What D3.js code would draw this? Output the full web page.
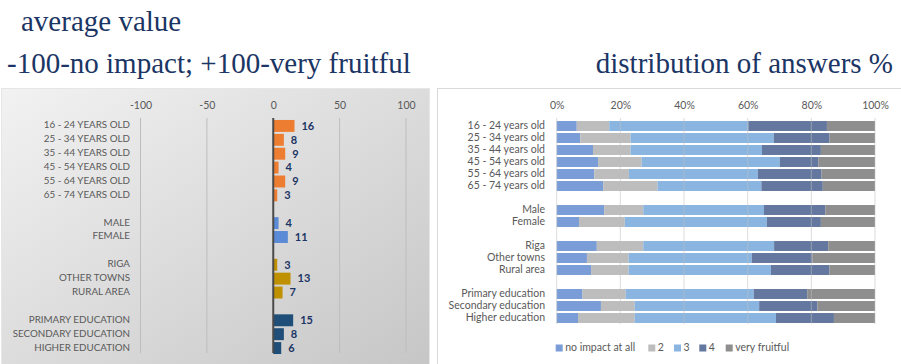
<!DOCTYPE html>
<html><head><meta charset="utf-8">
<script src="https://cdn.jsdelivr.net/npm/d3@7"></script>
<style>body{margin:0;background:#fff;}svg{display:block;}</style>
</head><body>
<svg id="c" width="901" height="364"></svg>
<script>
const leftCategories = ["16 - 24 YEARS OLD","25 - 34 YEARS OLD","35 - 44 YEARS OLD","45 - 54 YEARS OLD","55 - 64 YEARS OLD","65 - 74 YEARS OLD","",
  "MALE","FEMALE"," ","RIGA","OTHER TOWNS","RURAL AREA","  ","PRIMARY EDUCATION","SECONDARY EDUCATION","HIGHER EDUCATION"];
const averageValues = [16,8,9,4,9,3,null,4,11,null,3,13,7,null,15,8,6];
const groupOf = ["age","age","age","age","age","age",null,"gender","gender",null,"place","place","place",null,"edu","edu","edu"];
const leftTicks = [-100,-50,0,50,100];

const rightCategories = ["16 - 24 years old","25 - 34 years old","35 - 44 years old","45 - 54 years old","55 - 64 years old","65 - 74 years old","",
  "Male","Female"," ","Riga","Other towns","Rural area","  ","Primary education","Secondary education","Higher education"];
const answerKeys = ["no impact at all","2","3","4","very fruitful"];
const noImpact   = [6.3,7.4,11.4,13.0,11.8,14.6,null,14.9,7.0,null,12.6,9.5,10.8,null,8.1,13.9,6.7];
const ans2       = [10.2,15.8,11.8,13.7,10.9,17.1,null,12.3,14.4,null,14.6,13.1,11.8,null,13.6,10.6,17.8];
const ans3       = [43.7,45.0,41.3,43.4,40.5,32.6,null,37.9,44.6,null,41.1,38.7,44.7,null,40.2,39.1,44.4];
const ans4       = [24.7,17.5,18.5,12.1,20.0,19.3,null,19.3,17.0,null,17.0,19.0,18.4,null,16.8,18.3,18.2];
const veryFruit  = [15.1,14.3,17.0,17.8,16.8,16.4,null,15.6,17.0,null,14.7,19.7,14.3,null,21.3,18.1,12.9];
const rightTicks = [0,20,40,60,80,100];

const svg = d3.select("#c");
const navy = "#1B3564";

// Titles
svg.append("text").attr("x",21).attr("y",31).attr("font-family","Liberation Serif").attr("font-size",29).attr("fill",navy).text("average value");
svg.append("text").attr("x",7).attr("y",73).attr("font-family","Liberation Serif").attr("font-size",29).attr("fill",navy).text("-100-no impact; +100-very fruitful");
svg.append("text").attr("x",893).attr("y",73).attr("text-anchor","end").attr("font-family","Liberation Serif").attr("font-size",29).attr("fill",navy).text("distribution of answers %");

// Left panel
const defs = svg.append("defs");
const lg = defs.append("linearGradient").attr("id","lg").attr("x1","0").attr("y1","0").attr("x2","1").attr("y2","1");
lg.append("stop").attr("offset","0").attr("stop-color","#F2F2F2");
lg.append("stop").attr("offset","1").attr("stop-color","#C6C6C6");
svg.append("rect").attr("x",1.5).attr("y",88.5).attr("width",428).attr("height",280).attr("fill","url(#lg)").attr("stroke","#E6E6E6");

const xL = d3.scaleLinear().domain([-100,100]).range([140.5,406]);
const yL = d3.scaleBand().domain(leftCategories).range([119,355]).paddingInner(0.14).paddingOuter(0.07);
const colorL = {age:"#ED7D31",gender:"#5B8AD6",place:"#BF9000",edu:"#1F4E79"};

const gL = svg.append("g");
gL.selectAll("line.grid").data(leftTicks.filter(d=>d!==0)).join("line")
  .attr("x1",d=>xL(d)).attr("x2",d=>xL(d)).attr("y1",118).attr("y2",353)
  .attr("stroke","#BDBDBD").attr("stroke-width",1);
const axL = d3.axisTop(xL).tickValues(leftTicks).tickFormat(d=>String(d)).tickSize(0).tickPadding(0);
const axLg = svg.append("g").attr("transform","translate(0,109)").call(axL);
axLg.select(".domain").remove();
axLg.selectAll("text").attr("font-family","Lato").attr("font-size",10.5).attr("fill","#595959");

const idx = d3.range(leftCategories.length).filter(i=>averageValues[i]!==null);
gL.selectAll("rect.bar").data(idx).join("rect")
  .attr("x",i=>xL(Math.min(0,averageValues[i])))
  .attr("width",i=>Math.abs(xL(averageValues[i])-xL(0)))
  .attr("y",i=>yL(leftCategories[i])).attr("height",yL.bandwidth())
  .attr("fill",i=>colorL[groupOf[i]]);
gL.selectAll("text.val").data(idx).join("text")
  .attr("x",i=>xL(averageValues[i])+7).attr("y",i=>yL(leftCategories[i])+yL.bandwidth()/2+1)
  .attr("dominant-baseline","middle").attr("font-family","Lato").attr("font-weight","bold").attr("font-size",11)
  .attr("fill",navy).text(i=>averageValues[i]);
gL.selectAll("text.cat").data(idx).join("text")
  .attr("x",130).attr("y",i=>yL(leftCategories[i])+yL.bandwidth()/2)
  .attr("text-anchor","end").attr("dominant-baseline","middle").attr("font-family","Lato").attr("font-size",9.8)
  .attr("fill","#595959").text(i=>leftCategories[i]);
gL.append("line").attr("x1",xL(0)).attr("x2",xL(0)).attr("y1",118).attr("y2",353).attr("stroke","#4A4A4A").attr("stroke-width",2);

// Right panel
svg.append("rect").attr("x",437.5).attr("y",88.5).attr("width",470).attr("height",280).attr("fill","#fff").attr("stroke","#D9D9D9");
const xR = d3.scaleLinear().domain([0,100]).range([556.7,875]);
const yR = d3.scaleBand().domain(rightCategories).range([120,324]).paddingInner(0.17).paddingOuter(0.085);
const colorR = d3.scaleOrdinal().domain(answerKeys).range(["#7A9DD7","#BDBDBD","#8AB5E1","#64789F","#8E8E8E"]);

const axR = d3.axisTop(xR).tickValues(rightTicks).tickFormat(d=>d+"%").tickSize(0).tickPadding(0);
const axRg = svg.append("g").attr("transform","translate(0,109)").call(axR);
axRg.select(".domain").remove();
axRg.selectAll("text").attr("font-family","Lato").attr("font-size",10.5).attr("fill","#595959");

const series = [noImpact,ans2,ans3,ans4,veryFruit];
const rIdx = d3.range(rightCategories.length).filter(i=>noImpact[i]!==null);
const tableR = rIdx.map(i=>{const o={cat:rightCategories[i]}; answerKeys.forEach((k,j)=>o[k]=series[j][i]); return o;});
const stack = d3.stack().keys(answerKeys)(tableR);
const gR = svg.append("g");
gR.selectAll("g.s").data(stack).join("g").attr("fill",d=>colorR(d.key))
  .selectAll("rect").data(d=>d).join("rect")
  .attr("x",d=>xR(d[0])).attr("width",d=>xR(Math.min(100,d[1]))-xR(d[0]))
  .attr("y",d=>yR(d.data.cat)).attr("height",yR.bandwidth());
gR.selectAll("line.grid").data(rightTicks).join("line")
  .attr("x1",d=>xR(d)).attr("x2",d=>xR(d)).attr("y1",118).attr("y2",324)
  .attr("stroke","#BFBFBF").attr("stroke-opacity",0.55).attr("stroke-width",1);
gR.selectAll("text.cat").data(rIdx).join("text")
  .attr("x",545).attr("y",i=>yR(rightCategories[i])+yR.bandwidth()/2)
  .attr("text-anchor","end").attr("dominant-baseline","middle").attr("font-family","Lato").attr("font-size",10.5)
  .attr("fill","#595959").text(i=>rightCategories[i]);

// Legend
const legX = [555.7,648.3,674,699.3,725.7];
const leg = svg.append("g").selectAll("g").data(answerKeys).join("g")
  .attr("transform",(d,i)=>`translate(${legX[i]},348)`);
leg.append("rect").attr("x",0).attr("y",-3.5).attr("width",7).attr("height",7).attr("fill",d=>colorR(d));
leg.append("text").attr("x",9.5).attr("y",0).attr("dominant-baseline","middle").attr("font-family","Lato").attr("font-size",10.5)
  .attr("fill","#595959").text(d=>d);
</script>
</body></html>
